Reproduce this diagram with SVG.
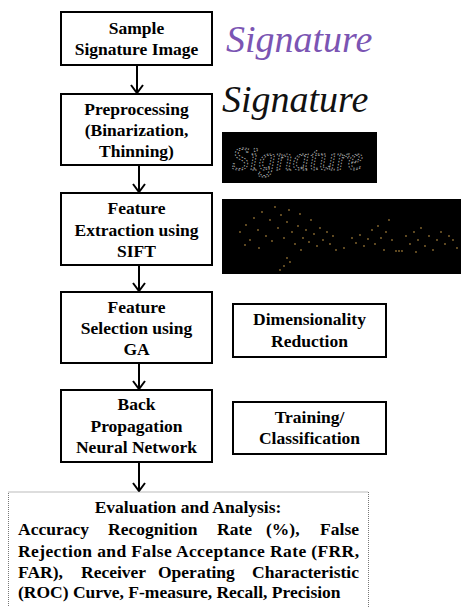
<svg xmlns="http://www.w3.org/2000/svg" width="461" height="607" viewBox="0 0 461 607">
<style>
.box{fill:#fff;stroke:#000;stroke-width:2}
</style>
<rect width="461" height="607" fill="#fff"/>
<g id="connectors" stroke="#000" stroke-width="2" fill="none">
<path d="M137 65V93M131 85L137 93L143 85"/>
<path d="M139 165V192M133 184L139 192L145 184"/>
<path d="M139 265V291M133 283L139 291L145 283"/>
<path d="M139 363V389M133 381L139 389L145 381"/>
<path d="M139 462V491M133 483L139 491L145 483"/>
</g>
<g font-family="Liberation Serif, Times New Roman, Times, serif" font-weight="bold" font-size="17.5" fill="#000">
<g id="sample" text-anchor="middle">
<rect class="box" x="61" y="12" width="151" height="53"/>
<text x="136.5" y="34">Sample</text>
<text x="136.5" y="55">Signature Image</text>
</g>
<g id="preprocessing" text-anchor="middle">
<rect class="box" x="61" y="94" width="151" height="71"/>
<text x="136.5" y="115">Preprocessing</text>
<text x="136.5" y="136">(Binarization,</text>
<text x="136.5" y="157">Thinning)</text>
</g>
<g id="extraction" text-anchor="middle">
<rect class="box" x="61" y="193" width="151" height="72"/>
<text x="136.5" y="214">Feature</text>
<text x="136.5" y="236">Extraction using</text>
<text x="136.5" y="257">SIFT</text>
</g>
<g id="selection" text-anchor="middle">
<rect class="box" x="61" y="292" width="151" height="71"/>
<text x="136.5" y="313">Feature</text>
<text x="136.5" y="334">Selection using</text>
<text x="136.5" y="355">GA</text>
</g>
<g id="bpnn" text-anchor="middle">
<rect class="box" x="61" y="390" width="151" height="72"/>
<text x="136.5" y="410">Back</text>
<text x="136.5" y="432">Propagation</text>
<text x="136.5" y="453">Neural Network</text>
</g>
<g id="dimred" text-anchor="middle">
<rect class="box" x="233" y="304" width="153" height="53"/>
<text x="309.5" y="325">Dimensionality</text>
<text x="309.5" y="347">Reduction</text>
</g>
<g id="training" text-anchor="middle">
<rect class="box" x="233" y="402" width="153" height="52"/>
<text x="309.5" y="423">Training/</text>
<text x="309.5" y="444">Classification</text>
</g>
<g id="evaluation">
<rect x="8.5" y="492" width="360" height="120" fill="#fff" stroke="#777" stroke-width="1" stroke-dasharray="1,1"/>
<text x="188" y="513" text-anchor="middle">Evaluation and Analysis:</text>
<text y="535"><tspan x="18">Accuracy</tspan><tspan x="108">Recognition</tspan><tspan x="217">Rate</tspan><tspan x="266">(%),</tspan></text>
<text x="359" y="535" text-anchor="end">False</text>
<text x="18" y="557" textLength="341" lengthAdjust="spacing">Rejection and False Acceptance Rate (FRR,</text>
<text y="578"><tspan x="18">FAR),</tspan><tspan x="81">Receiver</tspan><tspan x="158">Operating</tspan></text>
<text x="359" y="578" text-anchor="end">Characteristic</text>
<text x="18" y="598">(ROC) Curve, F-measure, Recall, Precision</text>
</g>
</g>
<g id="images" font-family="Liberation Serif, Times New Roman, Times, serif" font-style="italic">
<text x="226" y="52" font-size="38" fill="#7b55b3">Signature</text>
<text x="222" y="112" font-size="38" fill="#111">Signature</text>
<rect x="222" y="132" width="155" height="51" fill="#000"/>
<text x="232" y="170" font-size="34" fill="none" stroke="#aaa" stroke-width="0.9" stroke-dasharray="1.5,1.5">Signature</text>
<rect x="222" y="199" width="239" height="75" fill="#000"/>
<g fill="#8a6a30">
<circle cx="240" cy="232" r="0.9"/><circle cx="246" cy="225" r="0.9"/><circle cx="250" cy="240" r="0.9"/><circle cx="254" cy="218" r="0.9"/><circle cx="258" cy="230" r="0.9"/><circle cx="262" cy="212" r="0.9"/><circle cx="266" cy="236" r="0.9"/><circle cx="270" cy="220" r="0.9"/><circle cx="272" cy="241" r="0.9"/><circle cx="275" cy="207" r="0.9"/><circle cx="278" cy="228" r="0.9"/><circle cx="281" cy="215" r="0.9"/><circle cx="284" cy="238" r="0.9"/><circle cx="287" cy="222" r="0.9"/><circle cx="289" cy="210" r="0.9"/><circle cx="292" cy="232" r="0.9"/><circle cx="295" cy="244" r="0.9"/><circle cx="298" cy="226" r="0.9"/><circle cx="300" cy="214" r="0.9"/><circle cx="303" cy="238" r="0.9"/><circle cx="306" cy="230" r="0.9"/><circle cx="309" cy="242" r="0.9"/><circle cx="311" cy="220" r="0.9"/><circle cx="314" cy="234" r="0.9"/><circle cx="317" cy="246" r="0.9"/><circle cx="320" cy="228" r="0.9"/><circle cx="323" cy="240" r="0.9"/><circle cx="327" cy="232" r="0.9"/><circle cx="330" cy="244" r="0.9"/><circle cx="333" cy="236" r="0.9"/><circle cx="336" cy="250" r="0.9"/><circle cx="287" cy="258" r="0.9"/><circle cx="284" cy="266" r="0.9"/><circle cx="290" cy="262" r="0.9"/><circle cx="280" cy="270" r="0.9"/><circle cx="352" cy="238" r="0.9"/><circle cx="356" cy="243" r="0.9"/><circle cx="360" cy="235" r="0.9"/><circle cx="364" cy="246" r="0.9"/><circle cx="368" cy="239" r="0.9"/><circle cx="372" cy="230" r="0.9"/><circle cx="375" cy="244" r="0.9"/><circle cx="378" cy="226" r="0.9"/><circle cx="381" cy="238" r="0.9"/><circle cx="384" cy="250" r="0.9"/><circle cx="386" cy="232" r="0.9"/><circle cx="389" cy="220" r="0.9"/><circle cx="392" cy="240" r="0.9"/><circle cx="396" cy="251" r="0.9"/><circle cx="399" cy="251" r="0.9"/><circle cx="402" cy="251" r="0.9"/><circle cx="406" cy="236" r="0.9"/><circle cx="410" cy="244" r="0.9"/><circle cx="414" cy="232" r="0.9"/><circle cx="418" cy="240" r="0.9"/><circle cx="421" cy="228" r="0.9"/><circle cx="425" cy="246" r="0.9"/><circle cx="429" cy="236" r="0.9"/><circle cx="433" cy="250" r="0.9"/><circle cx="437" cy="240" r="0.9"/><circle cx="441" cy="232" r="0.9"/><circle cx="445" cy="244" r="0.9"/><circle cx="449" cy="236" r="0.9"/><circle cx="453" cy="240" r="0.9"/><circle cx="457" cy="248" r="0.9"/><circle cx="245" cy="245" r="0.9"/><circle cx="259" cy="248" r="0.9"/><circle cx="301" cy="250" r="0.9"/><circle cx="344" cy="248" r="0.9"/><circle cx="416" cy="252" r="0.9"/>
</g>
</g>
</svg>
